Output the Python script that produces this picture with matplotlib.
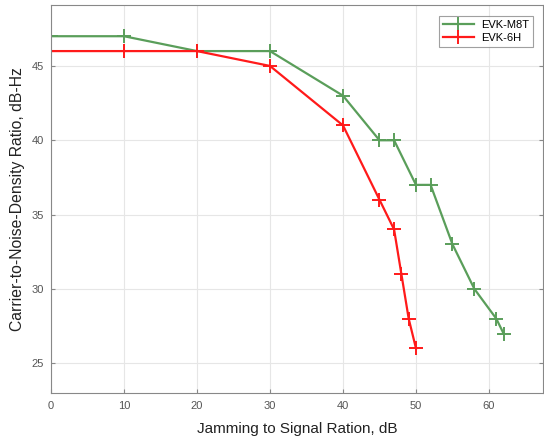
import matplotlib
matplotlib.use("Agg")
import matplotlib.pyplot as plt

plt.rcParams['font.family'] = ['Liberation Sans', 'DejaVu Sans']

m8t_x = [0, 10, 20, 30, 40, 45, 47, 50, 52, 55, 58, 61, 62]
m8t_y = [47, 47, 46, 46, 43, 40, 40, 37, 37, 33, 30, 28, 27]
h6_x = [0, 10, 20, 30, 40, 45, 47, 48, 49, 50]
h6_y = [46, 46, 46, 45, 41, 36, 34, 31, 28, 26]
xticks = [0, 10, 20, 30, 40, 50, 60]
yticks = [25, 30, 35, 40, 45]

fig = plt.figure(figsize=(5.44, 4.41), dpi=100)
ax = fig.add_axes([51/544, 48/441, 492/544, 388/441])

ax.plot(m8t_x, m8t_y, color='#5a9e5a', lw=1.6, marker='+', ms=9.5, mew=1.4, label='EVK-M8T')
ax.plot(h6_x, h6_y, color='#ff1a1a', lw=1.6, marker='+', ms=9.5, mew=1.4, label='EVK-6H')

ax.set_xlim(0, 67.4)
ax.set_ylim(23, 49.1)
ax.set_xticks(xticks)
ax.set_yticks(yticks)
ax.grid(True, color='#e6e6e6', lw=0.8)
ax.set_axisbelow(True)
ax.tick_params(direction='in', length=3, color='#888888', labelcolor='#555555',
               labelsize=8, top=False, right=True)
ax.tick_params(axis='x', pad=6)
ax.tick_params(axis='y', pad=5)
for s in ax.spines.values():
    s.set_color('#888888')
    s.set_linewidth(0.8)

ax.set_xlabel('Jamming to Signal Ration, dB', fontsize=11, color='#222222', labelpad=8)
ax.set_ylabel('Carrier-to-Noise-Density Ratio, dB-Hz', fontsize=11.3, color='#222222', labelpad=5)

leg = ax.legend(loc='upper right', fontsize=8, frameon=True, fancybox=False,
                edgecolor='#888888', handlelength=2.8, borderpad=0.35,
                bbox_to_anchor=(0.99, 0.985), labelspacing=0.25, handletextpad=0.6)
leg.get_frame().set_linewidth(0.8)

fig.savefig('out.png', dpi=100)
